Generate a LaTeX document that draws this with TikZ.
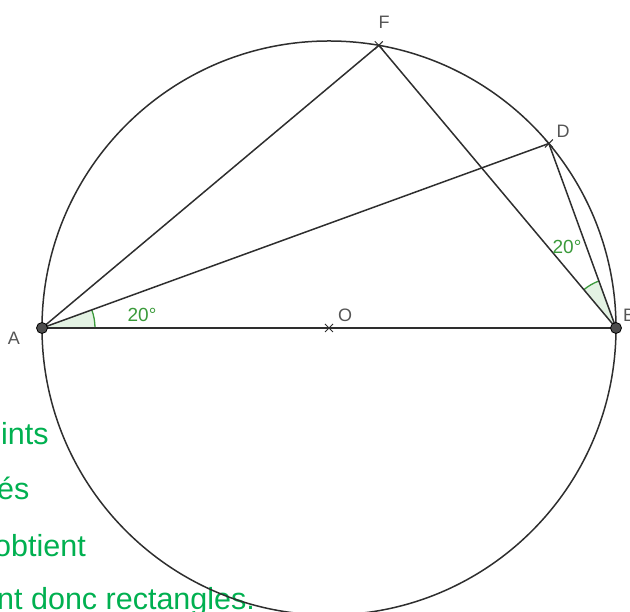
\documentclass[tikz,border=0pt]{standalone}
\usepackage{fontspec}
\setmainfont{Liberation Sans}
\usetikzlibrary{calc}
\definecolor{txtgreen}{HTML}{00B050}
\definecolor{anggreen}{HTML}{3A9A3A}
\definecolor{angfill}{HTML}{E3F2E3}
\definecolor{lbl}{HTML}{555555}
\definecolor{ln}{HTML}{2E2E2E}
\tikzset{
  seg/.style={draw=ln, line width=1.5pt},
  ptlabel/.style={text=lbl, font=\fontsize{18}{20}\selectfont, inner sep=0pt},
  anglabel/.style={text=anggreen, font=\fontsize{19}{21}\selectfont, inner sep=0pt},
  bigtxt/.style={text=txtgreen, font=\fontsize{30.5}{32}\selectfont, inner sep=0pt, anchor=base west},
  dot/.style={circle, fill=ln!85, draw=black, line width=0.8pt, minimum size=11pt, inner sep=0pt},
  crossmark/.style={draw=ln, line width=1pt}
}
\begin{document}
\begin{tikzpicture}[x=1pt,y=1pt]
\useasboundingbox (0,0) rectangle (630,612);
\clip (0,0) rectangle (630,612);
% left text
\node[bigtxt] (t1) at (1,167) {ints};
\node[bigtxt] (t2) at (-3,112) {és};
\node[bigtxt] (t3) at (-6,55) {obtient};
\node[bigtxt] (t4) at (-3,2) {nt donc rectangles.};
% geometry
\coordinate (O) at (329,284);
\coordinate (A) at ($(O)+(180:287)$);
\coordinate (B) at ($(O)+(0:287)$);
\coordinate (D) at ($(O)+(40:287)$);
\coordinate (F) at ($(O)+(80:287)$);
% angles
\path[fill=angfill] (B) -- ++(110:50) arc[start angle=110, end angle=130, radius=50] -- cycle;
\draw[draw=anggreen, line width=1.3pt] ($(B)+(110:50)$) arc[start angle=110, end angle=130, radius=50];
\path[fill=angfill] (A) -- ++(0:53) arc[start angle=0, end angle=20, radius=53] -- cycle;
\draw[draw=anggreen, line width=1.3pt] ($(A)+(0:53)$) arc[start angle=0, end angle=20, radius=53];
% circle
\draw[seg] (O) circle[radius=287];
% segments
\draw[seg] (A) -- (B);
\draw[seg] (A) -- (F);
\draw[seg] (A) -- (D);
\draw[seg] (F) -- (B);
\draw[seg] (D) -- (B);
% crosses
\foreach \p in {O,D,F}{
  \draw[crossmark] ($(\p)+(-4,-4)$) -- ($(\p)+(4,4)$);
  \draw[crossmark] ($(\p)+(-4,4)$) -- ($(\p)+(4,-4)$);
}
% points
\node[dot] (pA) at (A) {};
\node[dot] (pB) at (B) {};
% labels
\node[ptlabel] (lA) at (14,274) {A};
\node[ptlabel] (lB) at (629,297) {B};
\node[ptlabel] (lD) at (563,481) {D};
\node[ptlabel] (lF) at (384,590) {F};
\node[ptlabel] (lO) at (345,297) {O};
\node[anglabel] (a1) at (142,297) {20°};
\node[anglabel] (a2) at (567,365) {20°};
\end{tikzpicture}
\end{document}
